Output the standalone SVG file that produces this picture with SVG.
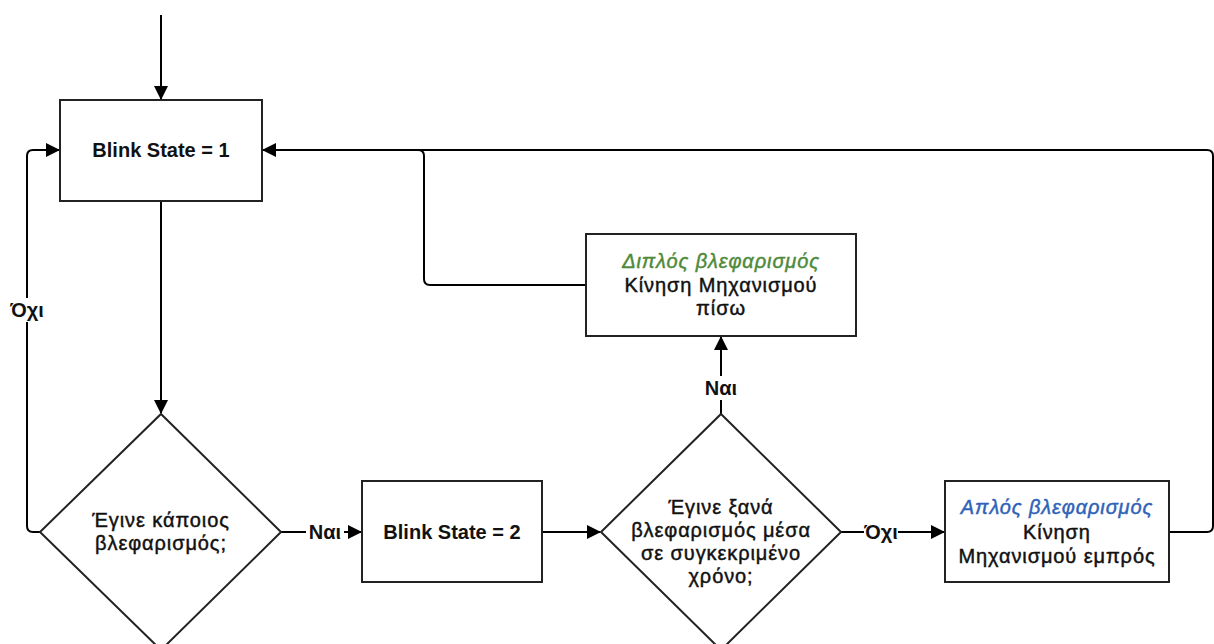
<svg xmlns="http://www.w3.org/2000/svg" width="1214" height="644" viewBox="0 0 1214 644">
  <defs>
    <marker id="arrow" viewBox="0 0 14 14" refX="13" refY="7" markerWidth="14" markerHeight="14" markerUnits="userSpaceOnUse" orient="auto">
      <path d="M0,0 L14,7 L0,14 Z" fill="#000"/>
    </marker>
  </defs>
  <style>
    .box { fill: #fff; stroke: #222; stroke-width: 2; }
    .edge { fill: none; stroke: #000; stroke-width: 2; }
    .t { font-family: "Liberation Sans", Arial, sans-serif; font-size: 20px; fill: #111; text-anchor: middle; font-weight: bold; }
    .g { font-weight: normal; stroke: #111; stroke-width: 0.45px; letter-spacing: 0.9px; }
    .green { fill: #4e8a3a; stroke: #4e8a3a; font-style: italic; }
    .blue { fill: #2f62b8; stroke: #2f62b8; font-style: italic; }
    .lbl { fill: #fff; }
  </style>
  <rect width="1214" height="644" fill="#fff"/>

  <!-- connectors -->
  <g id="connectors">
    <path class="edge" d="M161,15 V99" marker-end="url(#arrow)"/>
    <path class="edge" d="M161,201 V413" marker-end="url(#arrow)"/>
    <path class="edge" d="M40,532 H33 Q27,532 27,526 V156 Q27,150 33,150 H59" marker-end="url(#arrow)"/>
    <path class="edge" d="M281,532 H361" marker-end="url(#arrow)"/>
    <path class="edge" d="M542,532 H600" marker-end="url(#arrow)"/>
    <path class="edge" d="M721,414 V337" marker-end="url(#arrow)"/>
    <path class="edge" d="M841,532 H944" marker-end="url(#arrow)"/>
    <path class="edge" d="M1169,532 H1207 Q1213,532 1213,526 V156 Q1213,150 1207,150 H263" marker-end="url(#arrow)"/>
    <path class="edge" d="M586,285 H430 Q424,285 424,279 V156 Q424,150 418,150 H263"/>
    <!-- edge labels -->
    <rect class="lbl" x="12" y="298" width="30" height="24"/>
    <text class="t" x="27" y="317">Όχι</text>
    <rect class="lbl" x="306" y="520" width="38" height="24"/>
    <text class="t" x="325" y="539">Ναι</text>
    <rect class="lbl" x="704" y="376" width="34" height="24"/>
    <text class="t" x="721" y="395">Ναι</text>
    <rect class="lbl" x="864" y="520" width="34" height="24"/>
    <text class="t" x="881" y="539">Όχι</text>
  </g>

  <g id="state1">
    <rect class="box" x="60" y="100" width="202" height="101"/>
    <text class="t" x="161" y="157">Blink State = 1</text>
  </g>

  <g id="decision1">
    <polygon class="box" points="161,414 281,532 161,650 40,532"/>
    <text class="t g" x="161" y="527">Έγινε κάποιος</text>
    <text class="t g" x="161" y="550">βλεφαρισμός;</text>
  </g>

  <g id="state2">
    <rect class="box" x="362" y="481" width="180" height="101"/>
    <text class="t" x="452" y="539">Blink State = 2</text>
  </g>

  <g id="decision2">
    <polygon class="box" points="721,414 841,532 721,650 601,532"/>
    <text class="t g" x="721" y="514">Έγινε ξανά</text>
    <text class="t g" x="721" y="537">βλεφαρισμός μέσα</text>
    <text class="t g" x="721" y="560">σε συγκεκριμένο</text>
    <text class="t g" x="721" y="583">χρόνο;</text>
  </g>

  <g id="double-blink">
    <rect class="box" x="586" y="234" width="270" height="102"/>
    <text class="t g green" x="721" y="268">Διπλός βλεφαρισμός</text>
    <text class="t g" x="721" y="292">Κίνηση Μηχανισμού</text>
    <text class="t g" x="721" y="315">πίσω</text>
  </g>

  <g id="single-blink">
    <rect class="box" x="945" y="481" width="224" height="101"/>
    <text class="t g blue" x="1057" y="514">Απλός βλεφαρισμός</text>
    <text class="t g" x="1057" y="539">Κίνηση</text>
    <text class="t g" x="1057" y="563">Μηχανισμού εμπρός</text>
  </g>
</svg>
